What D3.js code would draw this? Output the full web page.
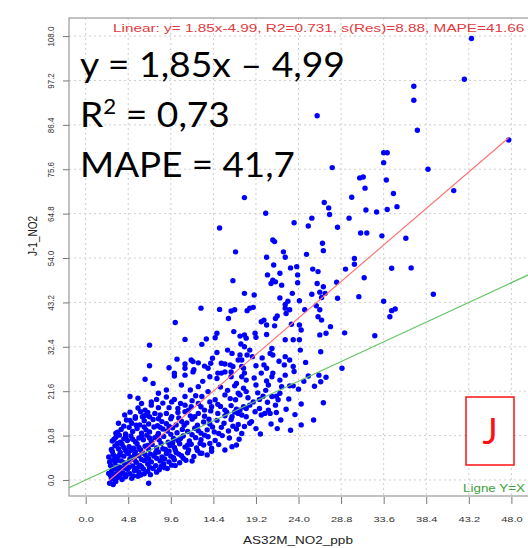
<!DOCTYPE html>
<html>
<head>
<meta charset="utf-8">
<script src="https://cdn.jsdelivr.net/npm/d3@7"></script>
<style>
  body { margin: 0; background: #fff; }
  svg { display: block; }
</style>
</head>
<body>
<script>
// tick values of both axes
var xTicks = [0, 4.8, 9.6, 14.4, 19.2, 24.0, 28.8, 33.6, 38.4, 43.2, 48.0];
var yTicks = [0, 10.8, 21.6, 32.4, 43.2, 54.0, 64.8, 75.6, 86.4, 97.2, 108.0];

// linear fit: slope, intercept
var fitCoef = [1.85, -4.99];

// texts
var header = "Linear: y= 1.85x-4.99, R2=0.731, s(Res)=8.88, MAPE=41.66";
var bigLines = ["y = 1,85x \u2013 4,99", "R", "MAPE = 41,7"];

var obsHigh = [
  [43.5,107.4],[42.7,97.5],[37.0,95.8],[37.0,92.4],[37.4,85.1],[26.1,88.6],[47.7,82.7],[33.6,79.6],[34.0,79.6],
  [33.6,77.2],[38.6,75.6],[27.8,76.0],[33.9,73.0],[30.9,73.5],[31.3,73.7],[31.5,71.0],[34.7,69.7],[41.5,70.4],
  [17.9,68.7],[30.0,68.8],[26.9,67.5],[27.4,66.2],[27.5,64.6],[31.6,65.7],[32.8,65.2],[34.0,65.8],[35.1,66.5],
  [20.3,64.9],[15.1,61.3],[23.5,62.6],[25.5,63.7],[25.1,61.8],[29.7,63.7],[28.4,61.5],[31.0,60.1],[31.7,60.1],
  [33.4,59.4],[36.1,58.8],[21.1,58.4],[21.3,58.0],[26.7,57.6]
];
var obsRight = [
  [34.5,51.5],[36.7,51.6],[39.2,45.2],[34.9,41.6],[34.5,41.2],[34.3,39.7]
];
var obsMid = [
  [26.8,55.8],[22.3,55.5],[22.5,54.2],[20.4,54.2],[24.9,54.9],[30.3,53.9],[30.3,52.5],[29.3,51.3],[21.2,52.3],
  [23.1,51.6],[23.8,51.9],[25.6,51.3],[26.2,50.7],[21.9,50.3],[20.5,49.9],[23.9,49.9],[21.1,48.6],[20.9,47.8],
  [21.4,48.2],[23.9,48.0],[22.1,47.4],[26.1,47.8],[26.8,47.0],[28.3,48.1],[31.4,49.2],[17.9,45.4],[19.0,45.0],
  [23.3,45.4],[25.5,45.2],[26.4,45.7],[27.0,45.4],[26.6,44.4],[21.9,44.3],[22.8,43.5],[22.5,42.7],[24.1,43.6],
  [28.4,44.2],[30.8,44.6],[33.6,43.5],[18.5,41.8],[18.9,42.0],[18.2,41.2],[21.6,39.9],[21.4,39.3],[22.5,41.8],
  [23.0,41.4],[22.6,40.5],[24.7,41.4],[26.0,42.4],[26.4,41.4],[26.2,39.7],[26.6,38.9],[20.1,38.9],[19.8,38.5],
  [20.4,37.7],[21.3,37.5],[23.2,37.9],[24.1,37.7],[24.3,36.5],[27.6,37.3],[29.2,35.8],[26.4,35.3],[27.1,35.7],
  [32.6,35.1],[19.1,35.7],[19.2,34.7],[17.9,35.3],[18.1,34.5],[20.4,35.4],[22.5,34.1],[23.4,34.1],[24.1,34.1],
  [17.9,32.4],[18.5,31.6],[18.8,30.0],[18.2,30.4],[21.0,32.0],[20.8,30.8],[21.1,30.4],[24.2,31.6],[26.5,31.2],
  [17.4,30.4],[17.6,29.2],[22.5,30.0],[23.0,29.2],[22.4,28.0],[23.4,27.6],[19.2,27.8],[20.1,28.0],[20.4,27.2],
  [21.1,26.0],[21.0,25.1],[17.8,27.2],[17.9,26.0],[17.6,25.1],[18.1,24.3],[19.8,26.0],[25.1,25.3],[26.3,25.5],
  [26.5,23.9],[27.1,25.0],[28.9,27.2],[19.2,23.1],[20.6,23.1],[21.9,24.3],[22.1,22.7],[23.0,22.9],[23.4,22.9],
  [24.0,22.1],[17.8,22.3],[18.1,21.5],[17.4,20.7],[19.4,21.2],[20.0,20.4],[21.0,20.3],[21.5,20.4],[21.9,21.1],
  [21.7,19.5],[21.4,18.2],[18.9,19.0],[18.5,18.2],[20.5,18.9],[24.3,18.5],[26.8,18.8],[22.6,17.2],[17.8,17.8],
  [18.1,17.4],[17.4,17.0],[17.6,15.8],[18.1,15.4],[19.1,16.6],[19.6,17.4],[19.8,15.8],[20.2,16.2],[20.6,17.0],
  [20.8,16.2],[21.5,16.4],[18.5,13.8],[17.9,13.0],[18.7,14.2],[25.7,14.6],[24.3,13.4],[19.7,11.2],
  [18.3,20.0],[19.6,19.6],[20.3,21.8],[19.0,24.8],[20.4,24.1],[22.5,25.5],[23.5,26.4],[24.6,24.0],[19.9,29.7],
  [21.8,28.9],[24.8,28.6],[25.8,22.8],[22.9,19.7],[23.6,15.9],[22.0,14.6],[20.9,13.6],[21.6,12.5],[23.1,12.1],
  [19.2,12.5]
];
var obsLeft = [
  [16.9,55.5],[16.6,48.5],[13.0,41.8],[15.1,41.5],[16.4,41.1],[16.1,39.3],[16.8,41.4],[10.1,38.3],[14.8,35.7],
  [14.6,34.6],[16.7,36.1],[17.4,35.0],[11.2,34.2],[13.6,34.3],[13.1,33.0],[7.2,32.8],[17.5,33.1],[16.0,31.6],
  [16.5,30.8],[14.8,31.0],[10.3,29.4],[11.9,29.2],[11.2,28.2],[12.1,28.8],[12.7,28.5],[14.3,29.6],[14.1,28.4],
  [15.3,28.4],[15.7,28.2],[16.3,28.0],[16.6,27.6],[17.2,29.2],[17.6,27.6],[7.2,27.8],[9.4,27.3],[11.2,27.2],
  [12.2,26.8],[13.4,27.7],[13.8,27.2],[10.0,26.0],[15.7,26.3],[16.4,26.3],[14.9,26.0]
];
var obsCore = [
  [2.7,-0.8],[3.1,-1.1],[3.4,-0.4],[2.9,0.3],[3.6,0.6],[4.1,0.1],[4.5,0.8],[5.2,0.4],[7.1,-0.8],[5.9,0.9],[3.3,0.9],
  [2.6,1.6],[3.0,2.4],[3.4,1.4],[3.8,2.2],[4.2,1.7],[4.7,2.6],[5.0,1.5],[5.5,2.3],[6.0,1.9],[6.5,2.7],[7.0,2.1],
  [7.6,2.8],[8.3,2.5],[3.2,2.9],[4.4,2.9],[6.2,1.2],[8.9,3.0],
  [2.8,3.5],[3.3,4.2],[3.7,3.3],[4.0,4.6],[4.5,3.8],[4.9,4.5],[5.3,3.4],[5.7,4.3],[6.1,3.6],[6.6,4.7],[7.0,3.9],
  [7.4,4.4],[7.9,3.5],[8.4,4.6],[8.8,3.9],[9.4,4.4],[10.0,4.9],[10.6,4.2],[11.3,4.8],[3.0,4.9],[5.5,4.9],[9.7,3.6],
  [2.6,5.6],[3.1,6.2],[3.5,5.3],[3.9,6.7],[4.3,5.8],[4.8,6.4],[5.2,5.5],[5.6,6.9],[6.0,5.9],[6.4,6.6],[6.9,5.4],
  [7.3,6.3],[7.7,5.8],[8.2,6.8],[8.6,5.6],[9.1,6.4],[9.6,5.8],[10.2,6.7],[10.8,5.9],[11.5,6.6],[12.2,5.7],
  [12.9,6.5],[13.1,6.5],[14.2,7.0],[11.6,7.3],[10.1,7.3],
  [2.9,7.4],[3.3,8.3],[3.7,7.6],[4.1,8.7],[4.5,7.2],[4.9,8.1],[5.4,7.7],[5.8,8.8],[6.2,7.3],[6.7,8.2],[7.1,7.5],
  [7.5,8.6],[8.0,7.8],[8.5,8.9],[9.0,7.4],[9.5,8.4],[10.0,7.9],[10.6,8.8],[11.2,8.0],[11.9,8.7],[12.5,7.8],
  [13.3,8.5],[14.0,8.9],[15.7,7.3],[16.5,8.1],[17.0,8.5],[14.2,7.7],
  [3.0,9.5],[3.4,10.4],[3.9,9.2],[4.3,10.0],[4.7,9.6],[5.1,10.7],[5.6,9.3],[6.0,10.2],[6.5,9.8],[6.9,10.9],
  [7.4,9.4],[7.8,10.3],[8.3,9.7],[8.8,10.6],[9.3,9.2],[9.9,10.1],[10.4,9.6],[11.0,10.7],[11.7,9.5],[12.4,10.3],
  [13.0,9.8],[13.8,10.5],[14.6,9.6],[15.4,10.8],[16.2,10.2],[17.3,9.9],
  [3.6,11.6],[4.0,12.3],[4.5,11.2],[4.9,12.8],[5.3,11.8],[5.8,12.5],[6.3,11.4],[6.8,12.2],[7.2,11.7],[7.7,12.9],
  [8.2,11.3],[8.7,12.4],[9.2,11.9],[9.8,12.7],[10.3,11.5],[10.9,12.3],[11.5,11.8],[12.3,12.6],[13.0,11.4],
  [13.7,12.2],[14.5,11.7],[15.3,12.8],[16.1,11.9],[17.0,12.4],[17.6,11.3],
  [3.7,13.8],[4.6,14.6],[5.2,13.8],[5.6,15.0],[6.1,13.4],[6.6,14.4],[7.1,13.6],[7.6,14.7],[8.1,13.2],[8.6,14.2],
  [9.1,13.7],[9.6,14.9],[10.2,13.4],[10.8,14.3],[11.4,13.9],[12.0,14.8],[12.6,13.3],[13.3,14.1],[14.0,13.6],
  [14.8,14.5],[15.6,13.8],[16.4,14.7],[17.2,13.5],
  [4.4,15.8],[5.0,16.5],[5.6,15.4],[6.2,16.6],[6.7,15.7],[7.2,15.4],[7.8,16.2],[8.4,15.8],[9.1,16.2],[9.7,15.4],
  [10.4,16.4],[11.2,16.6],[11.8,15.6],[12.7,16.2],[13.4,15.5],[14.1,16.8],[14.9,16.2],[15.7,15.6],[16.5,15.4],
  [17.2,16.2],
  [5.9,17.5],[6.7,17.0],[7.4,18.2],[8.2,17.6],[8.7,18.7],[9.7,19.0],[10.4,17.4],[11.2,18.2],[11.9,17.8],
  [12.7,18.6],[13.4,17.0],[14.2,17.8],[14.9,18.4],[15.7,17.0],[16.4,18.1],[17.0,17.2],
  [5.0,20.3],[5.9,19.9],[7.4,19.0],[8.2,21.1],[9.1,20.2],[10.0,19.6],[11.2,20.3],[12.0,19.3],[13.1,20.3],
  [13.8,21.5],[14.6,19.5],[15.7,20.7],[16.3,19.8],[17.2,21.1],
  [9.1,21.9],[10.8,23.1],[11.8,21.9],[12.7,22.7],[15.2,22.6],[16.0,21.8],[16.8,22.9],[17.0,23.5],[7.6,23.5],
  [6.7,24.5],[10.0,25.3],[11.2,25.5],[12.1,26.3],[14.0,25.1],[14.8,24.7],[15.3,26.0],[16.4,25.1],[13.2,24.0]
];
var obsCoreFill = [
  [2.8,1.1],[3.2,0.2],[3.9,1.2],[4.6,1.3],[5.4,1.0],[6.6,1.5],[7.3,1.3],[8.0,1.9],[2.9,2.0],[3.5,2.6],[4.0,3.0],
  [4.9,3.1],[5.8,2.9],[6.3,3.2],[7.2,3.1],[8.5,3.3],[9.2,2.8],[10.1,3.5],[2.7,4.4],[3.6,4.8],[4.3,4.2],[5.0,5.2],
  [6.3,5.0],[7.1,5.1],[8.0,5.3],[8.9,5.1],[9.9,5.4],[11.0,5.3],[12.0,4.6],[3.3,5.7],[3.8,6.0],[4.6,6.9],[5.5,6.1],
  [6.7,6.2],[7.9,6.7],[9.4,7.0],[10.5,6.3],[12.6,7.2],[13.7,6.1],[3.0,7.0],[3.6,8.9],[4.3,7.9],[5.1,7.2],[6.0,7.9],
  [7.0,8.4],[8.7,7.6],[9.8,9.0],[11.5,8.5],[12.9,8.9],[15.0,8.6],[3.2,9.9],[3.8,10.9],[4.5,10.5],[5.3,9.9],
  [6.3,10.6],[7.2,10.2],[8.1,10.8],[9.6,11.1],[10.7,10.1],[12.0,11.0],[13.4,10.9],[15.0,11.3],[3.4,11.4],
  [4.3,13.1],[5.7,13.3],[6.6,12.9],[8.4,12.8],[9.4,13.0],[11.1,13.3],[12.7,12.0],[14.3,12.9],[16.6,13.1],
  [5.0,14.5],[6.4,15.4],[8.2,14.9],[10.5,15.1],[12.3,15.4],[13.9,14.8],[15.9,16.5],[7.0,16.4],[9.4,17.6],
  [11.6,17.0],[13.0,17.8],[15.2,17.9],[16.8,16.5],[6.3,18.6],[8.0,19.6],[10.7,18.6],[12.4,20.5],[14.0,19.0],
  [16.9,19.5]
];
var obs = obsHigh.concat(obsRight, obsMid, obsLeft, obsCore, obsCoreFill);

var W = 528, H = 548;

var svg = d3.select("body").append("svg")
    .attr("width", W)
    .attr("height", H);

// scales (plot box 69..530 x 18..496)
var x = d3.scaleLinear().domain([-1.88, 50.1]).range([69, 530]);
var y = d3.scaleLinear().domain([-3.9, 112.4]).range([496, 18]);

// dotted grid
var grid = svg.append("g").attr("class", "grid")
    .attr("stroke", "#cfcfcf")
    .attr("stroke-dasharray", "2,3");
grid.selectAll(".gx").data(xTicks).enter().append("line")
    .attr("x1", function(d){ return x(d); })
    .attr("x2", function(d){ return x(d); })
    .attr("y1", 18).attr("y2", 496);
grid.selectAll(".gy").data(yTicks).enter().append("line")
    .attr("y1", function(d){ return y(d); })
    .attr("y2", function(d){ return y(d); })
    .attr("x1", 69).attr("x2", 530);

// points
svg.append("g").selectAll("circle")
    .data(obs)
    .enter()
    .append("circle")
    .attr("cx", function(d){ return x(d[0]); })
    .attr("cy", function(d){ return y(d[1]); })
    .attr("r", 2.7)
    .style("fill", "#0000ff");

// line Y = X across the whole box
svg.append("line")
    .attr("x1", x(-1.88)).attr("y1", y(-1.88))
    .attr("x2", x(50.1)).attr("y2", y(50.1))
    .attr("stroke", "#66c466")
    .attr("stroke-width", 1.2);

// regression line over the range of the data
var xr = d3.extent(obs, function(d){ return d[0]; });
svg.append("line")
    .attr("x1", x(xr[0])).attr("y1", y(fitCoef[0] * xr[0] + fitCoef[1]))
    .attr("x2", x(xr[1])).attr("y2", y(fitCoef[0] * xr[1] + fitCoef[1]))
    .attr("stroke", "#ff7474")
    .attr("stroke-width", 1.2);

// frame
svg.append("rect")
    .attr("x", 69).attr("y", 18)
    .attr("width", 470).attr("height", 478)
    .attr("fill", "none")
    .attr("stroke", "#9a9a9a")
    .attr("stroke-width", 1.2);

// x axis
var xAxis = svg.append("g")
    .attr("transform", "translate(0,497)")
    .call(d3.axisBottom(x).tickValues(xTicks).tickSize(7).tickFormat(d3.format(".1f")));
xAxis.select(".domain").remove();
xAxis.selectAll("line").attr("stroke", "#777");
xAxis.selectAll("text")
    .attr("y", null).attr("dy", null)
    .attr("fill", "#333")
    .style("font-family", "Liberation Sans, Arial, sans-serif")
    .style("font-size", "8px")
    .attr("transform", "translate(0,25) scale(1.38,1)");

// y axis
var yAxis = svg.append("g")
    .attr("transform", "translate(69,0)")
    .call(d3.axisLeft(y).tickValues(yTicks).tickSize(6).tickFormat(d3.format(".1f")));
yAxis.select(".domain").remove();
yAxis.selectAll("line").attr("stroke", "#777");
yAxis.selectAll("text")
    .attr("x", null).attr("dy", null)
    .attr("fill", "#333")
    .attr("text-anchor", "middle")
    .style("font-family", "Liberation Sans, Arial, sans-serif")
    .style("font-size", "8px")
    .attr("transform", "translate(-15.5,0) scale(1.2,1) rotate(-90)");

// stretch a text element horizontally so it spans a given width
function fitWidth(t, tx, ty, width) {
    var len = t.node().getComputedTextLength();
    t.attr("transform", "translate(" + tx + "," + ty + ") scale(" + (width / len) + ",1)");
}

// axis titles
var xt = svg.append("text")
    .attr("text-anchor", "middle")
    .style("font-family", "Liberation Sans, Arial, sans-serif")
    .style("font-size", "11px")
    .attr("fill", "#222")
    .text("AS32M_NO2_ppb");
fitWidth(xt, 298, 544, 110);

svg.append("text")
    .attr("text-anchor", "middle")
    .style("font-family", "Liberation Sans, Arial, sans-serif")
    .style("font-size", "10px")
    .attr("fill", "#222")
    .attr("transform", "translate(37,236) scale(1.25,1) rotate(-90)")
    .text("J-1_NO2");

// red header
var ht = svg.append("text")
    .style("font-family", "Liberation Sans, Arial, sans-serif")
    .style("font-size", "11px")
    .attr("fill", "#e23a40")
    .text(header);
fitWidth(ht, 113, 32, 412);

// legend of the green line
var lg = svg.append("text")
    .style("font-family", "Liberation Sans, Arial, sans-serif")
    .style("font-size", "10.5px")
    .attr("fill", "#3aa23a")
    .text("Ligne Y=X");
fitWidth(lg, 463, 492, 62);

// big summary text
var big = svg.append("g").style("font-family", "Lato, 'Open Sans', sans-serif").attr("fill", "#000");
var l1 = big.append("text").style("font-size", "35px").text(bigLines[0]);
fitWidth(l1, 80, 77, 265);
var l2 = big.append("text").style("font-size", "35px");
l2.append("tspan").text(bigLines[1]);
l2.append("tspan").attr("dy", -13).style("font-size", "21px").text("2");
l2.append("tspan").attr("dy", 13).text(" = 0,73");
fitWidth(l2, 80, 127, 150);
var l3 = big.append("text").style("font-size", "35px").text(bigLines[2]);
fitWidth(l3, 80, 177, 215);

// J box
svg.append("rect")
    .attr("x", 466).attr("y", 397)
    .attr("width", 48).attr("height", 68)
    .attr("fill", "#fff")
    .attr("stroke", "#ff1010")
    .attr("stroke-width", 1.5);
svg.append("text")
    .attr("x", 490).attr("y", 444)
    .attr("text-anchor", "middle")
    .style("font-family", "Lato, 'Open Sans', sans-serif")
    .style("font-size", "36px")
    .attr("fill", "#ff1010")
    .text("J");
</script>
</body>
</html>
